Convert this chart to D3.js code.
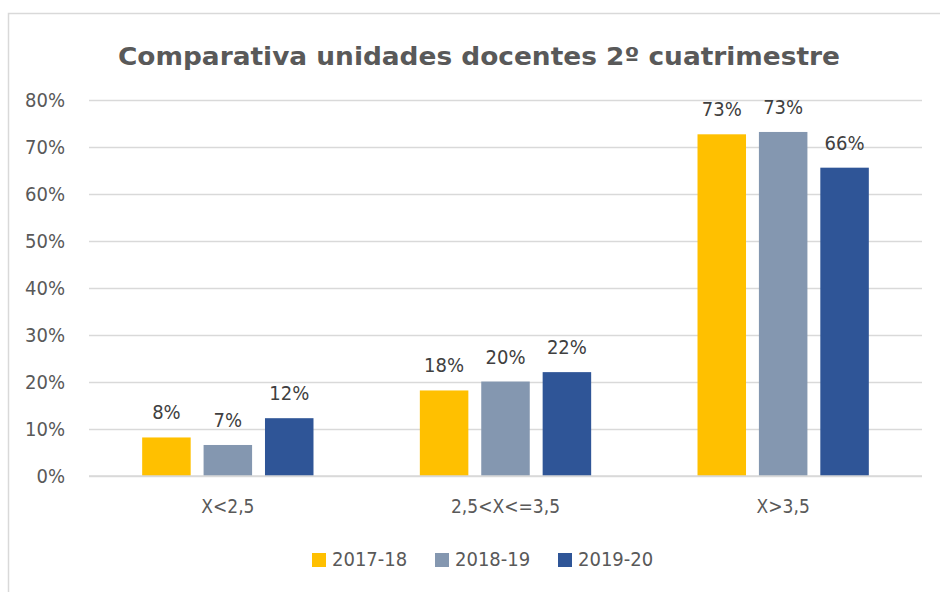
<!DOCTYPE html>
<html>
<head>
<meta charset="utf-8">
<script src="https://cdn.jsdelivr.net/npm/d3@7"></script>
<style>
  body { margin: 0; background: #fff; }
  text { font-family: "DejaVu Sans Condensed", "DejaVu Sans", Verdana, sans-serif; font-stretch: condensed; }
</style>
</head>
<body>
<div id="chart"></div>
<script>
// Data
const categories = ['X<2,5', '2,5<X<=3,5', 'X>3,5'];
const seriesNames = ['2017-18', '2018-19', '2019-20'];
const values2017 = [0.082, 0.182, 0.727];
const values2018 = [0.066, 0.201, 0.732];
const values2019 = [0.123, 0.221, 0.656];
const yTicks = [0, 0.1, 0.2, 0.3, 0.4, 0.5, 0.6, 0.7, 0.8];
const colors = ['#ffc000', '#8497b0', '#2f5597'];

const series = [values2017, values2018, values2019];
const FONT = '"DejaVu Sans Condensed", "DejaVu Sans", Verdana, sans-serif';

const W = 940, H = 592;
const margin = {top: 100, right: 18, bottom: 116, left: 89};
const width = W - margin.left - margin.right;
const height = H - margin.top - margin.bottom;

const svg = d3.select('#chart').append('svg')
  .attr('width', W)
  .attr('height', H);

// chart frame
svg.append('rect')
  .attr('x', 8.5).attr('y', 13.5)
  .attr('width', W + 10).attr('height', H + 10)
  .attr('fill', 'none')
  .attr('stroke', '#d9d9d9')
  .attr('stroke-width', 1.5);

// Title
svg.append('text')
  .attr('x', 479).attr('y', 65)
  .attr('text-anchor', 'middle')
  .attr('font-size', 25)
  .attr('font-weight', 'bold')
  .attr('fill', '#595959')
  .attr('textLength', 722)
  .attr('lengthAdjust', 'spacingAndGlyphs')
  .text('Comparativa unidades docentes 2º cuatrimestre');

const g = svg.append('g')
  .attr('transform', 'translate(' + margin.left + ',' + margin.top + ')');

// Scales
const x0 = d3.scaleBand()
  .domain(categories)
  .range([0, width])
  .paddingInner(0.383)
  .paddingOuter(0.1915);

const x1 = d3.scaleBand()
  .domain(seriesNames)
  .range([0, x0.bandwidth()])
  .padding(0.21)
  .paddingOuter(0);

const y = d3.scaleLinear()
  .domain([0, 0.8])
  .range([height, 0]);

// Gridlines
g.append('g')
  .call(d3.axisLeft(y).tickValues(yTicks).tickSize(-width).tickFormat(''))
  .call(a => a.select('.domain').remove())
  .call(a => a.selectAll('line').attr('stroke', '#d9d9d9').attr('stroke-width', 1.5));

// Y labels
g.append('g')
  .call(d3.axisLeft(y).tickValues(yTicks).tickSize(0).tickPadding(24).tickFormat(d3.format('.0%')))
  .call(a => a.select('.domain').remove())
  .call(a => a.selectAll('text')
    .attr('font-size', 20)
    .attr('fill', '#595959')
    .style('font-family', FONT));

// Bars
const groups = g.selectAll('.grp')
  .data(categories)
  .enter().append('g')
  .attr('transform', d => 'translate(' + x0(d) + ',0)');

groups.selectAll('rect')
  .data((d, i) => seriesNames.map((s, j) => ({s: s, j: j, v: series[j][i]})))
  .enter().append('rect')
  .attr('x', d => x1(d.s))
  .attr('y', d => y(d.v))
  .attr('width', x1.bandwidth())
  .attr('height', d => height - y(d.v))
  .attr('fill', d => colors[d.j]);

groups.selectAll('.lbl')
  .data((d, i) => seriesNames.map((s, j) => ({s: s, j: j, v: series[j][i]})))
  .enter().append('text')
  .attr('x', d => x1(d.s) + x1.bandwidth() / 2)
  .attr('y', d => y(d.v) - 18)
  .attr('text-anchor', 'middle')
  .attr('font-size', 20)
  .attr('fill', '#404040')
  .text(d => d3.format('.0%')(d.v));

// Baseline
g.append('line')
  .attr('x1', 0).attr('x2', width)
  .attr('y1', height).attr('y2', height)
  .attr('stroke', '#d9d9d9').attr('stroke-width', 1.5);

// X labels
g.append('g')
  .attr('transform', 'translate(0,' + height + ')')
  .call(d3.axisBottom(x0).tickSize(0).tickPadding(24))
  .call(a => a.select('.domain').remove())
  .call(a => a.selectAll('text')
    .attr('font-size', 19)
    .attr('fill', '#595959')
    .style('font-family', FONT));

// Legend
const legendX = [312, 435, 558];
const legend = svg.append('g');
seriesNames.forEach((s, j) => {
  legend.append('rect')
    .attr('x', legendX[j]).attr('y', 553)
    .attr('width', 14).attr('height', 14)
    .attr('fill', colors[j]);
  legend.append('text')
    .attr('x', legendX[j] + 20).attr('y', 566)
    .attr('font-size', 20)
    .attr('fill', '#595959')
    .text(s);
});
</script>
</body>
</html>
